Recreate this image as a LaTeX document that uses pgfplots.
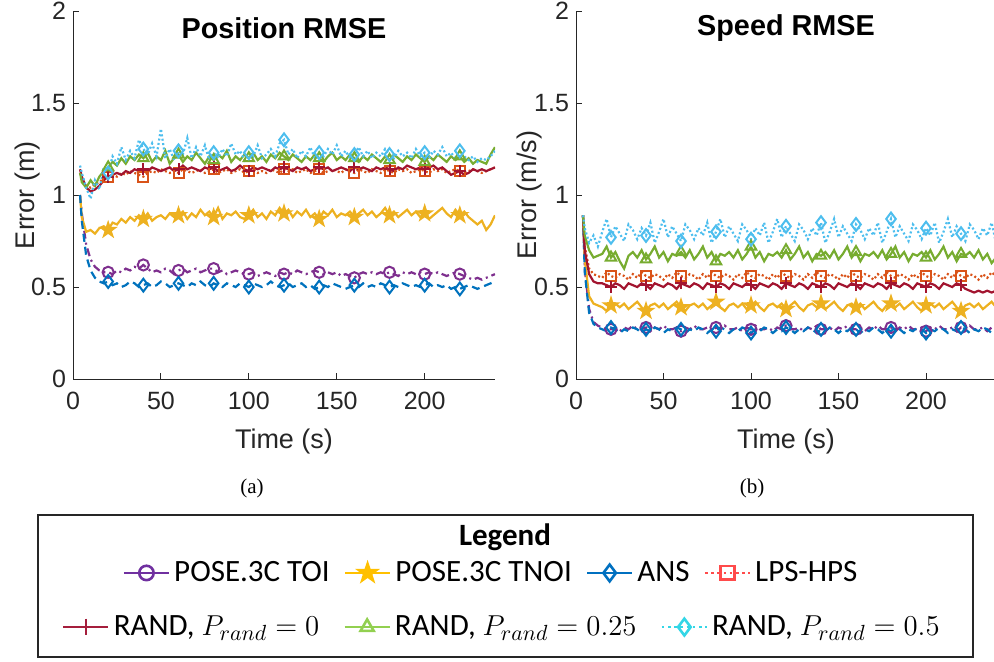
\documentclass[border=0pt]{standalone}
\usepackage{pgfplots}
\pgfplotsset{compat=1.18}
\usepackage{pgfplotstable}
\usepackage{fontspec}
\setmainfont{Liberation Sans}
\newfontfamily\carlito{Carlito}
\newfontfamily\serifa{Liberation Serif}

\definecolor{axgray}{HTML}{262626}
\definecolor{cpur}{HTML}{7E2F8E}
\definecolor{cyel}{HTML}{EDB120}
\definecolor{cblu}{HTML}{0072BD}
\definecolor{cora}{HTML}{D95319}
\definecolor{cred}{HTML}{A2142F}
\definecolor{cgre}{HTML}{77AC30}
\definecolor{ccya}{HTML}{4DBEEE}
\definecolor{lpur}{HTML}{7030A0}
\definecolor{lyel}{HTML}{FFC000}
\definecolor{lblu}{HTML}{0070C0}
\definecolor{lred}{HTML}{FF4B4B}
\definecolor{ldred}{HTML}{A51E3C}
\definecolor{lgre}{HTML}{92D050}
\definecolor{lcya}{HTML}{33D6E6}

\pgfdeclareplotmark{pentagram}{%
  \pgfpathmoveto{\pgfpointpolar{90}{1.25\pgfplotmarksize}}%
  \pgfpathlineto{\pgfpointpolar{126}{0.48\pgfplotmarksize}}%
  \pgfpathlineto{\pgfpointpolar{162}{1.25\pgfplotmarksize}}%
  \pgfpathlineto{\pgfpointpolar{198}{0.48\pgfplotmarksize}}%
  \pgfpathlineto{\pgfpointpolar{234}{1.25\pgfplotmarksize}}%
  \pgfpathlineto{\pgfpointpolar{270}{0.48\pgfplotmarksize}}%
  \pgfpathlineto{\pgfpointpolar{306}{1.25\pgfplotmarksize}}%
  \pgfpathlineto{\pgfpointpolar{342}{0.48\pgfplotmarksize}}%
  \pgfpathlineto{\pgfpointpolar{18}{1.25\pgfplotmarksize}}%
  \pgfpathlineto{\pgfpointpolar{54}{0.48\pgfplotmarksize}}%
  \pgfpathclose\pgfusepathqfillstroke}

\pgfplotstableread{
t toi tnoi ans lps rz rq rh
4 1.00 1.00 1.00 1.12 1.14 1.12 1.16
5 0.90 0.88 0.86 1.09 1.10 1.07 1.12
7.5 0.73 0.80 0.67 1.05 1.04 1.04 1.04
10 0.65 0.81 0.59 1.04 1.02 1.08 0.98
12.5 0.61 0.79 0.55 1.06 1.03 1.05 1.08
15 0.59 0.82 0.53 1.07 1.05 1.10 1.03
17.5 0.58 0.83 0.52 1.09 1.08 1.13 1.15
20 0.58 0.81 0.53 1.10 1.10 1.15 1.12
22.5 0.57 0.85 0.51 1.11 1.11 1.18 1.21
25 0.59 0.84 0.52 1.10 1.12 1.16 1.17
27.5 0.58 0.87 0.50 1.12 1.11 1.20 1.26
30 0.60 0.85 0.51 1.11 1.13 1.17 1.19
32.5 0.59 0.88 0.53 1.13 1.12 1.21 1.24
35 0.61 0.86 0.52 1.12 1.14 1.19 1.20
37.5 0.60 0.89 0.50 1.11 1.13 1.22 1.30
40 0.62 0.87 0.51 1.10 1.14 1.20 1.25
42.5 0.60 0.90 0.52 1.12 1.13 1.23 1.22
45 0.58 0.86 0.50 1.13 1.15 1.18 1.28
47.5 0.59 0.88 0.51 1.12 1.14 1.21 1.21
50 0.58 0.89 0.53 1.14 1.13 1.19 1.36
52.5 0.60 0.87 0.52 1.13 1.14 1.24 1.20
55 0.59 0.90 0.50 1.12 1.15 1.17 1.25
57.5 0.57 0.88 0.51 1.13 1.13 1.20 1.19
60 0.59 0.89 0.52 1.12 1.14 1.22 1.24
62.5 0.60 0.91 0.51 1.14 1.16 1.18 1.22
65 0.58 0.87 0.50 1.13 1.14 1.21 1.31
67.5 0.59 0.90 0.52 1.12 1.15 1.19 1.20
70 0.60 0.88 0.51 1.13 1.14 1.23 1.26
72.5 0.58 0.92 0.53 1.14 1.13 1.20 1.21
75 0.59 0.89 0.51 1.12 1.15 1.17 1.27
77.5 0.60 0.91 0.50 1.13 1.14 1.21 1.19
80 0.60 0.88 0.52 1.14 1.15 1.19 1.23
82.5 0.58 0.93 0.51 1.12 1.13 1.22 1.20
85 0.59 0.87 0.50 1.13 1.14 1.20 1.25
87.5 0.57 0.90 0.52 1.14 1.15 1.24 1.21
90 0.58 0.89 0.51 1.12 1.13 1.18 1.28
92.5 0.59 0.91 0.50 1.13 1.14 1.21 1.22
95 0.58 0.88 0.52 1.14 1.16 1.19 1.24
97.5 0.57 0.87 0.51 1.12 1.14 1.22 1.19
100 0.57 0.89 0.50 1.13 1.13 1.20 1.23
102.5 0.58 0.92 0.52 1.14 1.15 1.23 1.21
105 0.56 0.88 0.51 1.12 1.14 1.19 1.27
107.5 0.57 0.90 0.50 1.13 1.15 1.21 1.20
110 0.58 0.87 0.51 1.12 1.14 1.18 1.22
112.5 0.57 0.91 0.53 1.14 1.13 1.22 1.25
115 0.56 0.89 0.51 1.13 1.15 1.20 1.21
117.5 0.58 0.93 0.50 1.12 1.14 1.23 1.28
120 0.57 0.90 0.51 1.14 1.15 1.21 1.30
122.5 0.58 0.92 0.52 1.13 1.14 1.19 1.22
125 0.57 0.88 0.50 1.14 1.13 1.22 1.25
127.5 0.59 0.91 0.51 1.12 1.15 1.20 1.20
130 0.58 0.89 0.52 1.13 1.14 1.18 1.24
132.5 0.57 0.92 0.50 1.14 1.15 1.21 1.21
135 0.58 0.88 0.51 1.12 1.13 1.19 1.26
137.5 0.59 0.90 0.49 1.13 1.14 1.22 1.20
140 0.58 0.87 0.50 1.14 1.15 1.20 1.23
142.5 0.57 0.91 0.51 1.12 1.14 1.18 1.21
145 0.58 0.89 0.50 1.13 1.15 1.21 1.25
147.5 0.57 0.92 0.52 1.14 1.13 1.23 1.22
150 0.58 0.88 0.51 1.13 1.14 1.19 1.27
152.5 0.56 0.90 0.50 1.12 1.15 1.21 1.21
155 0.57 0.89 0.49 1.14 1.14 1.19 1.24
157.5 0.56 0.91 0.50 1.13 1.13 1.22 1.20
160 0.55 0.88 0.51 1.12 1.15 1.20 1.22
162.5 0.57 0.90 0.50 1.14 1.14 1.18 1.26
165 0.58 0.92 0.52 1.13 1.15 1.21 1.21
167.5 0.57 0.89 0.50 1.12 1.14 1.19 1.24
170 0.58 0.91 0.51 1.14 1.13 1.22 1.20
172.5 0.57 0.88 0.50 1.13 1.15 1.20 1.23
175 0.58 0.90 0.52 1.12 1.14 1.18 1.21
177.5 0.57 0.93 0.51 1.14 1.15 1.21 1.25
180 0.58 0.89 0.50 1.13 1.14 1.19 1.22
182.5 0.57 0.91 0.51 1.12 1.13 1.22 1.20
185 0.56 0.88 0.50 1.14 1.15 1.20 1.24
187.5 0.58 0.90 0.52 1.13 1.14 1.18 1.21
190 0.57 0.92 0.51 1.14 1.16 1.21 1.23
192.5 0.58 0.89 0.50 1.12 1.15 1.19 1.20
195 0.57 0.91 0.51 1.13 1.14 1.22 1.25
197.5 0.58 0.88 0.50 1.14 1.15 1.20 1.21
200 0.57 0.90 0.51 1.13 1.14 1.18 1.23
202.5 0.58 0.87 0.52 1.12 1.15 1.21 1.20
205 0.57 0.89 0.50 1.14 1.16 1.19 1.24
207.5 0.58 0.91 0.51 1.13 1.14 1.22 1.22
210 0.57 0.93 0.50 1.14 1.15 1.20 1.26
212.5 0.56 0.90 0.51 1.12 1.13 1.18 1.21
215 0.57 0.88 0.49 1.13 1.11 1.21 1.23
217.5 0.58 0.92 0.50 1.14 1.12 1.19 1.20
220 0.57 0.89 0.49 1.13 1.13 1.21 1.24
222.5 0.56 0.91 0.50 1.12 1.11 1.18 1.21
225 0.55 0.88 0.51 1.13 1.12 1.20 1.19
227.5 0.54 0.86 0.50 1.14 1.14 1.17 1.21
230 0.55 0.84 0.49 1.13 1.13 1.19 1.18
232.5 0.54 0.86 0.50 1.12 1.14 1.18 1.20
235 0.55 0.81 0.51 1.13 1.13 1.17 1.19
237.5 0.56 0.84 0.52 1.14 1.14 1.22 1.21
240 0.57 0.89 0.53 1.15 1.15 1.26 1.24
}\posdata

\pgfplotstableread{
t toi tnoi ans lps rz rq rh
4 0.89 0.89 0.89 0.89 0.89 0.89 0.89
5 0.60 0.65 0.58 0.72 0.70 0.78 0.82
7.5 0.38 0.45 0.36 0.60 0.57 0.70 0.74
10 0.31 0.41 0.30 0.57 0.53 0.66 0.78
12.5 0.29 0.40 0.28 0.56 0.52 0.67 0.72
15 0.28 0.39 0.27 0.55 0.52 0.68 0.80
17.5 0.27 0.37 0.26 0.58 0.51 0.72 0.87
20 0.27 0.40 0.28 0.56 0.50 0.66 0.77
22.5 0.28 0.41 0.27 0.55 0.52 0.69 0.83
25 0.26 0.39 0.25 0.57 0.51 0.64 0.79
27.5 0.28 0.41 0.27 0.56 0.49 0.60 0.75
30 0.27 0.38 0.26 0.54 0.52 0.67 0.84
32.5 0.29 0.40 0.28 0.57 0.51 0.69 0.81
35 0.27 0.42 0.27 0.55 0.50 0.66 0.76
37.5 0.27 0.39 0.25 0.58 0.52 0.70 0.82
40 0.28 0.37 0.27 0.56 0.51 0.65 0.78
42.5 0.26 0.40 0.26 0.55 0.49 0.68 0.85
45 0.28 0.41 0.28 0.57 0.52 0.72 0.74
47.5 0.27 0.39 0.27 0.56 0.51 0.66 0.80
50 0.29 0.41 0.25 0.54 0.50 0.69 0.87
52.5 0.27 0.38 0.27 0.57 0.52 0.64 0.77
55 0.27 0.40 0.26 0.55 0.51 0.68 0.83
57.5 0.28 0.42 0.28 0.58 0.49 0.67 0.79
60 0.26 0.39 0.27 0.56 0.52 0.69 0.75
62.5 0.28 0.37 0.25 0.55 0.51 0.66 0.84
65 0.27 0.40 0.27 0.57 0.50 0.70 0.81
67.5 0.29 0.41 0.26 0.56 0.52 0.65 0.76
70 0.27 0.39 0.28 0.54 0.51 0.68 0.82
72.5 0.27 0.41 0.27 0.57 0.49 0.72 0.78
75 0.28 0.38 0.25 0.55 0.52 0.66 0.85
77.5 0.26 0.40 0.27 0.58 0.51 0.69 0.74
80 0.28 0.42 0.26 0.56 0.50 0.64 0.80
82.5 0.27 0.39 0.28 0.55 0.52 0.68 0.87
85 0.29 0.37 0.27 0.57 0.51 0.67 0.77
87.5 0.27 0.40 0.25 0.56 0.49 0.69 0.83
90 0.27 0.41 0.27 0.54 0.52 0.66 0.79
92.5 0.28 0.39 0.26 0.57 0.51 0.70 0.75
95 0.26 0.41 0.28 0.55 0.50 0.65 0.84
97.5 0.28 0.38 0.27 0.58 0.52 0.68 0.81
100 0.27 0.40 0.25 0.56 0.51 0.72 0.76
102.5 0.29 0.42 0.27 0.55 0.49 0.66 0.82
105 0.27 0.39 0.26 0.57 0.52 0.69 0.78
107.5 0.27 0.37 0.28 0.56 0.51 0.64 0.85
110 0.28 0.40 0.27 0.54 0.50 0.68 0.74
112.5 0.26 0.41 0.25 0.57 0.52 0.67 0.80
115 0.28 0.39 0.27 0.55 0.51 0.69 0.87
117.5 0.27 0.41 0.26 0.58 0.49 0.66 0.77
120 0.29 0.38 0.28 0.56 0.52 0.70 0.83
122.5 0.27 0.40 0.27 0.55 0.51 0.65 0.79
125 0.27 0.42 0.25 0.57 0.50 0.68 0.75
127.5 0.28 0.39 0.27 0.56 0.52 0.72 0.84
130 0.26 0.37 0.26 0.54 0.51 0.66 0.81
132.5 0.28 0.40 0.28 0.57 0.49 0.69 0.76
135 0.27 0.41 0.27 0.55 0.52 0.64 0.82
137.5 0.29 0.39 0.25 0.58 0.51 0.68 0.78
140 0.27 0.41 0.27 0.56 0.50 0.67 0.85
142.5 0.27 0.38 0.26 0.55 0.52 0.69 0.74
145 0.28 0.40 0.28 0.57 0.51 0.66 0.80
147.5 0.26 0.42 0.27 0.56 0.49 0.70 0.87
150 0.28 0.39 0.25 0.54 0.52 0.65 0.77
152.5 0.27 0.37 0.27 0.57 0.51 0.68 0.83
155 0.29 0.40 0.26 0.55 0.50 0.72 0.79
157.5 0.27 0.41 0.28 0.58 0.52 0.66 0.75
160 0.27 0.39 0.27 0.56 0.51 0.69 0.84
162.5 0.28 0.41 0.25 0.55 0.49 0.64 0.81
165 0.26 0.38 0.27 0.57 0.52 0.68 0.76
167.5 0.28 0.40 0.26 0.56 0.51 0.67 0.82
170 0.27 0.42 0.28 0.54 0.50 0.69 0.78
172.5 0.29 0.39 0.27 0.57 0.52 0.66 0.85
175 0.27 0.37 0.25 0.55 0.51 0.70 0.74
177.5 0.27 0.40 0.27 0.58 0.49 0.65 0.80
180 0.28 0.41 0.26 0.56 0.52 0.68 0.87
182.5 0.26 0.39 0.28 0.55 0.51 0.72 0.77
185 0.28 0.41 0.27 0.57 0.50 0.66 0.83
187.5 0.27 0.38 0.25 0.56 0.52 0.69 0.79
190 0.29 0.40 0.27 0.54 0.51 0.64 0.75
192.5 0.27 0.42 0.26 0.57 0.49 0.68 0.84
195 0.27 0.39 0.28 0.55 0.52 0.67 0.81
197.5 0.28 0.37 0.27 0.58 0.51 0.69 0.76
200 0.26 0.40 0.25 0.56 0.50 0.66 0.82
202.5 0.28 0.41 0.27 0.55 0.52 0.70 0.78
205 0.27 0.39 0.26 0.57 0.51 0.65 0.85
207.5 0.29 0.41 0.28 0.56 0.49 0.68 0.74
210 0.27 0.38 0.27 0.54 0.52 0.72 0.80
212.5 0.27 0.40 0.25 0.57 0.51 0.66 0.87
215 0.28 0.42 0.27 0.55 0.50 0.69 0.77
217.5 0.26 0.39 0.26 0.58 0.52 0.64 0.83
220 0.28 0.37 0.28 0.56 0.51 0.68 0.79
222.5 0.27 0.40 0.27 0.55 0.49 0.67 0.75
225 0.29 0.41 0.25 0.57 0.48 0.69 0.84
227.5 0.27 0.39 0.27 0.56 0.47 0.66 0.81
230 0.27 0.41 0.26 0.54 0.48 0.70 0.76
232.5 0.28 0.38 0.28 0.57 0.47 0.65 0.82
235 0.26 0.40 0.27 0.55 0.48 0.68 0.78
237.5 0.28 0.42 0.25 0.58 0.47 0.63 0.85
240 0.27 0.39 0.27 0.56 0.48 0.66 0.74
}\spddata

\pgfplotsset{
  myaxis/.style={
    scale only axis, height=184pt,
    xmin=0, xmax=240, ymin=0, ymax=2,
    axis x line*=bottom, axis y line*=left,
    axis line style={color=axgray, line width=0.5pt},
    every tick/.style={color=axgray, line width=0.5pt},
    tick align=inside, major tick length=3pt,
    xtick={0,50,100,150,200},
    ytick={0,0.5,1,1.5,2}, yticklabels={0,0.5,1,1.5,2},
    /pgf/number format/assume math mode=true,
    ticklabel style={font=\fontsize{12.5}{14}\selectfont, text=axgray},
    xticklabel style={yshift=-3pt},
    label style={font=\fontsize{13.5}{16}\selectfont, text=axgray},
    xlabel={Time (s)},
    xlabel style={at={(axis description cs:0.5,-0.171)}, anchor=center},
    title style={at={(axis description cs:0.5,0.921)}, anchor=center,
      font=\bfseries\fontsize{14.4}{17}\selectfont, text=black},
    legend image code/.code={%
      \draw[mark repeat=2,mark phase=2,#1] plot coordinates {(0pt,0pt) (11.25pt,0pt) (22.5pt,0pt)};},
    legend style={draw=none, fill=none, anchor=center,
      font=\carlito\fontsize{15.5}{18}\selectfont},
    legend cell align=left,
  },
  pl/.style={line width=1.1pt, mark size=2.8pt,
    mark options={solid, line width=1pt, fill=none},
    mark indices={8,16,24,32,40,48,56,64,72,80,88}, forget plot},
  sTOI/.style={pl, color=cpur, dash pattern=on 4pt off 2pt on 1pt off 2pt, mark=o},
  sTNOI/.style={pl, color=cyel, mark=pentagram, mark options={solid, line width=1pt, fill=cyel}},
  sANS/.style={pl, color=cblu, dash pattern=on 4pt off 2.5pt, mark=diamond, mark size=3.2pt},
  sLPS/.style={pl, color=cora, dash pattern=on 1pt off 1.2pt, mark=square, mark size=2.5pt},
  sRZ/.style={pl, color=cred, mark=+, mark size=3pt},
  sRQ/.style={pl, color=cgre, mark=triangle, mark size=3pt},
  sRH/.style={pl, color=ccya, dash pattern=on 1pt off 1.2pt, mark=diamond, mark size=3.2pt},
  lg/.style={line width=1.3pt, mark size=3.6pt, mark options={solid, line width=1.3pt, fill=white}},
}

\begin{document}
\begin{tikzpicture}
\begin{axis}[myaxis, name=ax1, at={(36.5pt,-189.5pt)}, anchor=south west,
  width=211pt, title={Position RMSE}, ylabel={Error (m)},
  ylabel style={at={(axis description cs:-0.107,0.5)}, anchor=center},
  legend columns=4,
  legend style={at={(axis description cs:0.993,-0.527)},
    /tikz/every even column/.append style={column sep=5pt}}]
\addplot[sTOI] table[x=t,y=toi]{\posdata};
\addplot[sTNOI] table[x=t,y=tnoi]{\posdata};
\addplot[sANS] table[x=t,y=ans]{\posdata};
\addplot[sLPS] table[x=t,y=lps]{\posdata};
\addplot[sRZ] table[x=t,y=rz]{\posdata};
\addplot[sRQ] table[x=t,y=rq]{\posdata};
\addplot[sRH] table[x=t,y=rh]{\posdata};
\addlegendimage{lg, color=lpur, mark=o}
\addlegendentry{POSE.3C TOI}
\addlegendimage{lg, color=lyel, mark=pentagram, mark options={solid, fill=lyel}}
\addlegendentry{POSE.3C TNOI}
\addlegendimage{lg, color=lblu, mark=diamond, mark size=4.2pt}
\addlegendentry{ANS}
\addlegendimage{lg, color=lred, dash pattern=on 1.3pt off 1.8pt, mark=square, mark size=3.4pt}
\addlegendentry{LPS-HPS}
\end{axis}

\begin{axis}[myaxis, name=ax2, at={(288pt,-189.5pt)}, anchor=south west,
  width=210pt, title={Speed RMSE}, ylabel={Error (m/s)},
  ylabel style={at={(axis description cs:-0.11,0.5)}, anchor=center},
  legend columns=3,
  legend style={at={(axis description cs:-0.174,-0.674)},
    /tikz/every even column/.append style={column sep=10pt}}]
\addplot[sTOI] table[x=t,y=toi]{\spddata};
\addplot[sTNOI] table[x=t,y=tnoi]{\spddata};
\addplot[sANS] table[x=t,y=ans]{\spddata};
\addplot[sLPS] table[x=t,y=lps]{\spddata};
\addplot[sRZ] table[x=t,y=rz]{\spddata};
\addplot[sRQ] table[x=t,y=rq]{\spddata};
\addplot[sRH] table[x=t,y=rh]{\spddata};
\addlegendimage{lg, color=ldred, mark=+, mark size=4.2pt}
\addlegendentry{RAND, $P_{rand}=0$}
\addlegendimage{lg, color=lgre, mark=triangle, mark size=3.8pt}
\addlegendentry{RAND, $P_{rand}=0.25$}
\addlegendimage{lg, color=lcya, dash pattern=on 1.3pt off 1.8pt, mark=diamond, mark size=4.2pt}
\addlegendentry{RAND, $P_{rand}=0.5$}
\end{axis}

\node[font=\serifa\fontsize{10.5}{12}\selectfont] at (126pt,-244pt) {(a)};
\node[font=\serifa\fontsize{10.5}{12}\selectfont] at (376pt,-244pt) {(b)};
\draw[line width=0.75pt, color=axgray] (19pt,-257.5pt) rectangle (486.5pt,-328.5pt);
\node[font=\carlito\bfseries\fontsize{15.5}{18}\selectfont] at (252.5pt,-268.5pt) {Legend};

\pgfresetboundingbox
\useasboundingbox (0pt,0pt) rectangle (497pt,-330.5pt);
\end{tikzpicture}
\end{document}
